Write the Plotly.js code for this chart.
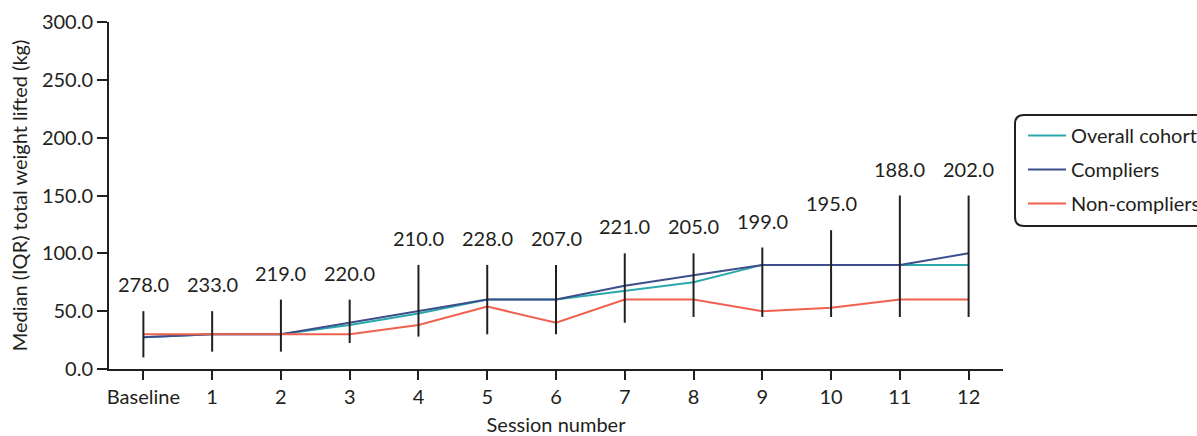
<!DOCTYPE html>
<html>
<head>
<meta charset="utf-8">
<script src="https://cdn.plot.ly/plotly-3.0.1.min.js"></script>
<style>
  html, body { margin: 0; padding: 0; background: #fff; }
  #chart { width: 1197px; height: 436px; }
</style>
</head>
<body>
<div id="chart"></div>
<script>
// Session labels along the x axis
const sessions = ['Baseline', '1', '2', '3', '4', '5', '6', '7', '8', '9', '10', '11', '12'];

// Median total weight lifted (kg) per group
const overallCohort = [27.5, 30, 30, 38, 48, 60, 60, 67.5, 75, 90, 90, 90, 90];
const compliers     = [27.5, 30, 30, 40, 50, 60, 60, 72, 81, 90, 90, 90, 100];
const nonCompliers  = [30, 30, 30, 30, 38, 54, 40, 60, 60, 50, 53, 60, 60];

// Interquartile range (overall cohort) for each session
const iqrLow  = [10, 15, 15, 22.5, 28, 30, 30, 40, 45, 45, 45, 45, 45];
const iqrHigh = [50, 50, 60, 60, 90, 90, 90, 100, 100, 105, 120, 150, 150];

// Number of participants at each session
const nLabels = ['278.0', '233.0', '219.0', '220.0', '210.0', '228.0', '207.0',
                 '221.0', '205.0', '199.0', '195.0', '188.0', '202.0'];

const FONT = 'Lato, "Open Sans", sans-serif';
const INK = '#231f20';
const FS = 20;

// IQR whiskers as one broken line: low -> high, gap, next session...
const whiskX = [], whiskY = [];
sessions.forEach((s, i) => {
  whiskX.push(s, s, null);
  whiskY.push(iqrLow[i], iqrHigh[i], null);
});

const traces = [
  { x: sessions, y: overallCohort, name: 'Overall cohort', legendgroup: 'a',
    type: 'scatter', mode: 'lines', line: { color: '#2aa9ad', width: 2 } },
  { x: sessions, y: compliers, name: 'Compliers', legendgroup: 'b',
    type: 'scatter', mode: 'lines', line: { color: '#3d4f8a', width: 2 } },
  { x: sessions, y: nonCompliers, name: 'Non-compliers', legendgroup: 'c',
    type: 'scatter', mode: 'lines', line: { color: '#f0604f', width: 2 } },
  { x: whiskX, y: whiskY, name: 'IQR', showlegend: false, hoverinfo: 'skip',
    type: 'scatter', mode: 'lines', line: { color: INK, width: 2 } }
];

// Participant counts sit just above each IQR whisker
const annotations = sessions.map((s, i) => ({
  x: s, y: iqrHigh[i], xref: 'x', yref: 'y',
  text: nLabels[i], showarrow: false,
  yanchor: 'middle', yshift: 27,
  font: { family: FONT, size: FS, color: INK }
}));

// Rounded frame drawn around the legend
const L = 109, T = 22, W = 894, H = 347;
function px2paperX(px) { return (px - L) / W; }
function px2paperY(py) { return 1 - (py - T) / H; }
const bx0 = 1015, bx1 = 1230, by0 = 115, by1 = 226, r = 9;
const framePath = [
  'M', px2paperX(bx0 + r), px2paperY(by0),
  'L', px2paperX(bx1), px2paperY(by0),
  'M', px2paperX(bx1), px2paperY(by1),
  'L', px2paperX(bx0 + r), px2paperY(by1),
  'Q', px2paperX(bx0), px2paperY(by1), px2paperX(bx0), px2paperY(by1 - r),
  'L', px2paperX(bx0), px2paperY(by0 + r),
  'Q', px2paperX(bx0), px2paperY(by0), px2paperX(bx0 + r), px2paperY(by0)
].join(' ');

const layout = {
  width: 1197, height: 436,
  margin: { l: L, r: 1197 - L - W, t: T, b: 436 - T - H, autoexpand: false },
  paper_bgcolor: '#fff', plot_bgcolor: '#fff',
  font: { family: FONT, size: FS, color: INK },
  showlegend: true,
  legend: {
    x: px2paperX(1023), xanchor: 'left',
    y: px2paperY(116), yanchor: 'top',
    traceorder: 'grouped', tracegroupgap: 5,
    bgcolor: 'rgba(0,0,0,0)', borderwidth: 0,
    itemwidth: 38,
    font: { family: FONT, size: FS, color: INK }
  },
  xaxis: {
    type: 'category', range: [-0.5, 12.5],
    showgrid: false, zeroline: false,
    showline: true, linecolor: INK, linewidth: 2,
    ticks: 'outside', ticklen: 9, tickwidth: 2, tickcolor: INK,
    tickfont: { family: FONT, size: FS, color: INK },
    title: { text: 'Session number', standoff: 15,
             font: { family: FONT, size: FS, color: INK } }
  },
  yaxis: {
    range: [0, 300], dtick: 50, tickformat: '.1f',
    showgrid: false, zeroline: false,
    showline: true, linecolor: INK, linewidth: 2,
    ticks: 'outside', ticklen: 10, tickwidth: 2, tickcolor: INK,
    tickfont: { family: FONT, size: FS, color: INK },
    title: { text: 'Median (IQR) total weight lifted (kg)', standoff: 9,
             font: { family: FONT, size: FS, color: INK } }
  },
  shapes: [{
    type: 'path', xref: 'paper', yref: 'paper', path: framePath,
    line: { color: INK, width: 2 }, fillcolor: 'rgba(0,0,0,0)'
  }],
  annotations: annotations
};

Plotly.newPlot('chart', traces, layout, { staticPlot: true, displayModeBar: false });
</script>
</body>
</html>
